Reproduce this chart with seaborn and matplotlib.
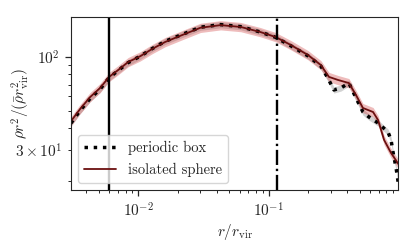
import numpy as np
import pandas as pd
import seaborn as sns
import matplotlib.pyplot as plt
from matplotlib.ticker import FuncFormatter

# %%
# profile: r / r_vir and rho r^2 / (rhobar r_vir^2)
sphere_r = [0.00305, 0.00358, 0.00428, 0.0051, 0.00598, 0.00702, 0.00837, 0.01036,
            0.0128, 0.0161, 0.0218, 0.0300, 0.0428, 0.0610, 0.0867, 0.113, 0.148,
            0.200, 0.251, 0.290, 0.340, 0.412, 0.467, 0.528, 0.631, 0.689, 0.767,
            0.867, 1.0]
sphere_val = [43.6, 51, 59.6, 67, 77.3, 84.5, 93.7, 101, 111, 121.5, 133, 146, 151,
              147.5, 138, 129.5, 116.7, 102.6, 90.1, 77.3, 74.3, 71.4, 61.2, 51.7,
              49.1, 44.3, 34.2, 28.9, 24.7]

box_r = [0.00305, 0.00358, 0.00428, 0.0051, 0.00598, 0.00702, 0.00837, 0.01036,
         0.0128, 0.0161, 0.0218, 0.0300, 0.0428, 0.0610, 0.0867, 0.113, 0.148,
         0.200, 0.251, 0.284, 0.316, 0.358, 0.412, 0.467, 0.528, 0.588, 0.689,
         0.822, 0.867, 0.900, 0.948, 0.982]
box_val = [42.5, 50, 58.5, 66, 76.5, 84, 93, 101, 111.5, 122.5, 134, 147, 152,
           148, 138, 129, 115.5, 101.5, 89, 76.2, 65.3, 67, 71.4, 58.9, 49.1, 46,
           42.6, 37.9, 34.2, 28.9, 23.8, 19.9]

r_soft = 0.006    # solid vertical line
r_conv = 0.115    # dash-dot vertical line

# %%
sns.set_style("ticks")
plt.rcParams['font.family'] = 'serif'
plt.rcParams['font.serif'] = ['cmr10', 'DejaVu Serif']
plt.rcParams['mathtext.fontset'] = 'cm'
plt.rcParams['axes.formatter.use_mathtext'] = True
plt.rcParams['font.size'] = 11

sphereDf = pd.DataFrame({'r': sphere_r, 'val': sphere_val})
boxDf = pd.DataFrame({'r': box_r, 'val': box_val})

fig = plt.figure(figsize=(4.15, 2.52), dpi=100)
ax = fig.add_axes([0.171, 0.246, 0.788, 0.687])

ax.fill_between(box_r, np.array(box_val) * 0.96, np.array(box_val) * 1.04,
                color='gray', alpha=0.35, lw=0)
ax.fill_between(sphere_r, np.array(sphere_val) * 0.94, np.array(sphere_val) * 1.06,
                color='#d04040', alpha=0.35, lw=0)
sns.lineplot(data=boxDf, x='r', y='val', ax=ax, color='black', ls=':', lw=2.5,
             label='periodic box')
sns.lineplot(data=sphereDf, x='r', y='val', ax=ax, color='#6b0f0f', lw=1.3,
             label='isolated sphere')

ax.axvline(r_soft, color='black', lw=1.7)
ax.axvline(r_conv, color='black', lw=1.7, ls='-.')

ax.set_xscale('log')
ax.set_yscale('log')
ax.set_xlim(0.00305, 0.98)
ax.set_ylim(17.9, 168)
ax.yaxis.set_minor_formatter(FuncFormatter(
    lambda v, p: r'$3\times10^{1}$' if abs(v - 30) < 0.5 else ''))
ax.tick_params(which='major', length=4.5, width=0.9)
ax.tick_params(which='minor', length=2.5, width=0.7)

ax.set_xlabel(r'$r/r_{\rm vir}$', labelpad=2)
ax.set_ylabel(r'$\rho r^2/(\bar{\rho} r_{\rm vir}^2)$', fontsize=11)
ax.yaxis.set_label_coords(-0.12, 0.5)
ax.legend(loc='lower left', framealpha=0.8, handlelength=2.2, fontsize=10.5)

fig.savefig('out.png', dpi=100)
